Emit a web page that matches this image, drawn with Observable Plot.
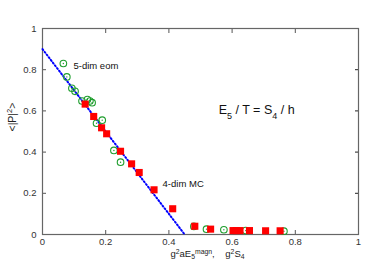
<!DOCTYPE html>
<html><head><meta charset="utf-8">
<script src="https://cdn.jsdelivr.net/npm/d3@7"></script>
<script src="https://cdn.jsdelivr.net/npm/@observablehq/plot@0.6"></script>
<style>
body{margin:0;background:#fff;}
#chart svg{display:block;}
</style></head><body><div id="chart"></div>
<script>
// 4-dim MC (red squares)
const mcX = [0.135, 0.162, 0.187, 0.203, 0.247, 0.282, 0.306, 0.353, 0.412, 0.482, 0.532, 0.603, 0.613, 0.625, 0.655, 0.706, 0.752];
const mcY = [0.633, 0.573, 0.518, 0.489, 0.404, 0.343, 0.301, 0.217, 0.125, 0.040, 0.026, 0.019, 0.019, 0.019, 0.019, 0.018, 0.018];
// 5-dim eom (green circles)
const eomX = [0.066, 0.077, 0.093, 0.103, 0.125, 0.142, 0.150, 0.157, 0.171, 0.189, 0.226, 0.247, 0.479, 0.519, 0.574, 0.643, 0.764];
const eomY = [0.830, 0.765, 0.710, 0.695, 0.648, 0.655, 0.648, 0.640, 0.540, 0.555, 0.408, 0.351, 0.039, 0.026, 0.023, 0.019, 0.016];
// blue dotted line
const fitX = [0, 0.45];
const fitY = [0.9, 0];
// ticks
const xTicks = [0, 0.2, 0.4, 0.6, 0.8, 1];
const yTicks = [0, 0.2, 0.4, 0.6, 0.8, 1];
const innerTicks = [0.2, 0.4, 0.6, 0.8];
// annotations
const noteText = ["5-dim eom", "4-dim MC"];
const noteX = [0.098, 0.38];
const noteY = [0.82, 0.243];
const relText = "E5 / T = S4 / h";
const relX = 0.5575, relY = 0.602;
const xLabel = "g2aE5magn,   g2S4";
const yLabel = "<|P|2>";

const mc = mcX.map((x, i) => ({x, y: mcY[i]}));
const eom = eomX.map((x, i) => ({x, y: eomY[i]}));
const fit = fitX.map((x, i) => ({x, y: fitY[i]}));
const notes = noteText.map((t, i) => ({t, x: noteX[i], y: noteY[i]}));

const font = "'Liberation Sans', Arial, Helvetica, sans-serif";
const green = "#1f9e2e";

const plot = Plot.plot({
  width: 374, height: 262,
  marginLeft: 42, marginRight: 16, marginTop: 28, marginBottom: 28,
  x: {domain: [0, 1]},
  y: {domain: [0, 1]},
  style: {fontFamily: font, fontSize: "9.5px", color: "#333", background: "#fff"},
  marks: [
    Plot.axisX(xTicks, {anchor: "bottom", tickSize: -4, tickPadding: 8, stroke: "#555", label: null, tickFormat: d => String(d)}),
    Plot.axisY(yTicks, {anchor: "left", tickSize: -4, tickPadding: 10, stroke: "#555", label: null, tickFormat: d => String(d)}),
    Plot.axisX(innerTicks, {anchor: "top", tickSize: -4, stroke: "#555", label: null, tickFormat: () => ""}),
    Plot.axisY(innerTicks, {anchor: "right", tickSize: -4, stroke: "#222", label: null, tickFormat: () => ""}),
    Plot.frame({stroke: "#666", strokeWidth: 1.2}),
    Plot.line(fit, {x: "x", y: "y", stroke: "#0000ff", strokeWidth: 2, strokeDasharray: "1.2,2.2"}),
    Plot.dot(eom, {x: "x", y: "y", r: 3.3, stroke: green, strokeWidth: 1.1, fill: "none"}),
    Plot.dot(eom, {x: "x", y: "y", r: 0.7, fill: green, stroke: "none"}),
    Plot.dot(mc, {x: "x", y: "y", symbol: "square", r: 4, fill: "#ff0000", stroke: "none"}),
    Plot.text(notes, {x: "x", y: "y", text: "t", textAnchor: "start", fontSize: 9.5, fill: "#111"}),
    Plot.text([relText], {x: () => relX, y: () => relY, text: d => d, textAnchor: "start", fontSize: 12.5, fill: "#111"}),
    Plot.text([xLabel], {frameAnchor: "bottom", text: d => d, dy: 22, dx: 7, fontSize: 9.5, fill: "#222", lineAnchor: "bottom"}),
    Plot.text([yLabel], {frameAnchor: "left", text: d => d, dx: -30, rotate: -90, fontSize: 10.5, fill: "#222"})
  ]
});
document.getElementById("chart").appendChild(plot);

function rich(svg, plain, parts, subShift, supShift) {
  d3.select(svg).selectAll("text").filter(function() { return this.textContent === plain; }).each(function() {
    const el = d3.select(this);
    el.text(null);
    parts.forEach(p => {
      const ts = el.append("tspan").text(p[0]);
      if (p[1] === "sup") ts.attr("baseline-shift", supShift).attr("font-size", "72%");
      if (p[1] === "sub") ts.attr("baseline-shift", subShift).attr("font-size", "72%");
    });
  });
}
rich(plot, relText, [["E"], ["5", "sub"], [" / T = S"], ["4", "sub"], [" / h"]], "sub", "super");
rich(plot, xLabel, [["g"], ["2", "sup"], ["aE"], ["5", "sub"], ["magn", "sup"], [",\u00a0\u00a0\u00a0 g"], ["2", "sup"], ["S"], ["4", "sub"]], "-1.5px", "3.5px");
rich(plot, yLabel, [["<|P|"], ["2", "sup"], [">"]], "sub", "super");
</script>
</body></html>
